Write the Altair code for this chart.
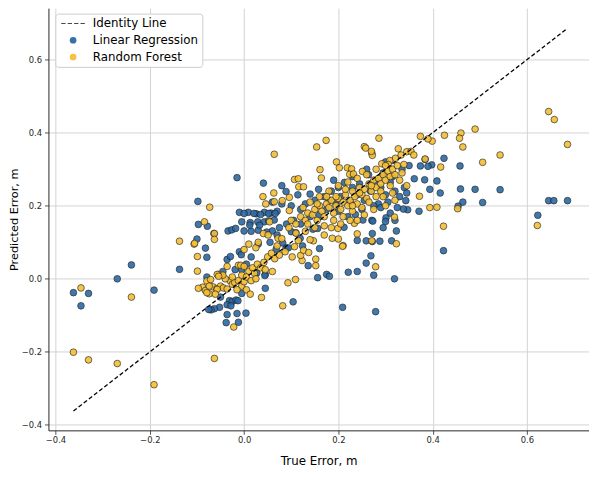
import altair as alt
import pandas as pd

# ---- Linear Regression (true error, predicted error) ----
lr_true = [
    -0.362, -0.330, -0.346, -0.269, -0.239, -0.191, -0.137, -0.098, -0.015, 0.041,
    -0.097, -0.078, -0.100, -0.082, -0.079, -0.036, -0.010, -0.006, 0.068, 0.045,
    0.045, -0.019, -0.005, -0.079, -0.031, -0.025, -0.017, -0.013, -0.036, -0.028,
    -0.052, -0.063, -0.070, -0.075, -0.036, -0.015, 0.004, -0.038, -0.012, -0.034,
    -0.026, -0.018, 0.013, 0.029, 0.043, 0.052, 0.064, -0.010, 0.009, 0.026,
    0.043, 0.057, 0.000, 0.015, 0.030, 0.048, 0.060, 0.075, 0.082, 0.089,
    0.100, 0.110, 0.124, 0.146, 0.156, 0.119, 0.094, 0.104, 0.209, 0.156,
    0.175, 0.181, 0.136, 0.160, 0.221, 0.240, 0.259, 0.269, 0.240, 0.259,
    0.272, 0.212, 0.252, 0.271, 0.423, 0.275, 0.319, 0.279, 0.288, 0.313,
    0.646, 0.657, 0.686, 0.623, 0.543, 0.490, 0.506, 0.464, 0.454, 0.459,
    0.458, 0.424, 0.398, 0.390, 0.374, 0.409, 0.416, 0.394, 0.383, 0.361,
    0.343, 0.371, 0.347, 0.338, 0.323, 0.301, 0.300, 0.273, 0.272, 0.236,
    0.384, 0.089, 0.114, 0.140, 0.158, 0.213, 0.264, 0.180, 0.195, 0.205,
    0.225, 0.240, 0.255, 0.268, 0.285, 0.290, 0.300, 0.310, 0.320, 0.330,
    0.315, 0.295, 0.280, 0.245, 0.230, 0.200, 0.185, 0.170, 0.150, 0.130,
    0.120, 0.100, 0.080, 0.070, 0.060, 0.175, 0.160, 0.140, 0.200, 0.220,
    0.250, 0.275, 0.305, 0.325, 0.340, 0.335, 0.350, 0.300, 0.260, 0.230,
    0.190, 0.000, 0.021, 0.035, 0.052, 0.066, -0.064, -0.005, 0.012, 0.033,
    0.080, 0.090, 0.105, 0.120, 0.070, 0.290, 0.310, 0.295, 0.320, 0.345,
    -0.029, 0.027, 0.044, 0.005, -0.045, 0.015, 0.030, 0.055, -0.050, -0.005,
]
lr_pred = [
    -0.038, -0.040, -0.074, 0.000, 0.038, -0.031, 0.026, 0.212, 0.277, 0.262,
    0.149, 0.144, 0.109, 0.084, 0.059, 0.053, 0.074, 0.066, 0.081, 0.012,
    -0.026, 0.025, 0.025, 0.005, -0.060, -0.062, -0.058, -0.060, -0.071, -0.074,
    -0.078, -0.082, -0.085, -0.084, -0.098, -0.095, -0.094, -0.120, -0.119, 0.131,
    0.134, 0.138, 0.154, 0.156, 0.156, 0.159, 0.161, 0.182, 0.182, 0.178,
    0.182, 0.180, 0.131, 0.130, 0.133, 0.128, 0.131, 0.140, 0.098, 0.084,
    0.129, 0.126, 0.090, 0.136, 0.138, 0.111, 0.085, -0.063, -0.078, 0.003,
    0.012, 0.007, 0.036, 0.083, 0.018, 0.020, 0.043, 0.063, 0.105, 0.104,
    0.102, 0.141, 0.161, 0.160, 0.077, 0.010, 0.000, -0.090, 0.103, 0.104,
    0.214, 0.214, 0.214, 0.174, 0.244, 0.245, 0.209, 0.210, 0.199, 0.246,
    0.309, 0.330, 0.312, 0.308, 0.309, 0.268, 0.235, 0.245, 0.271, 0.274,
    0.214, 0.185, 0.189, 0.191, 0.131, 0.167, 0.157, 0.158, 0.124, 0.176,
    0.327, 0.239, 0.230, 0.232, 0.245, 0.264, 0.285, 0.215, 0.205, 0.225,
    0.210, 0.230, 0.215, 0.240, 0.205, 0.250, 0.230, 0.265, 0.240, 0.225,
    0.280, 0.290, 0.270, 0.260, 0.250, 0.250, 0.240, 0.225, 0.215, 0.205,
    0.190, 0.200, 0.205, 0.185, 0.210, 0.190, 0.175, 0.170, 0.185, 0.170,
    0.190, 0.200, 0.210, 0.195, 0.250, 0.300, 0.310, 0.320, 0.300, 0.280,
    0.270, 0.179, 0.179, 0.176, 0.179, 0.179, 0.124, 0.156, 0.147, 0.147,
    0.255, 0.150, 0.160, 0.150, 0.120, 0.195, 0.180, 0.140, 0.160, 0.235,
    0.061, 0.016, 0.009, 0.040, 0.020, 0.060, 0.095, 0.100, -0.050, -0.040,
]

# ---- Random Forest (true error, predicted error) ----
rf_true = [
    -0.362, -0.346, -0.330, -0.269, -0.239, -0.191, -0.063, -0.022, -0.137, 0.646,
    0.658, 0.686, 0.622, 0.490, 0.460, 0.457, 0.464, 0.425, 0.399, 0.390,
    0.374, 0.543, 0.506, 0.417, 0.384, 0.453, 0.409, 0.394, 0.372, 0.423,
    0.319, 0.174, 0.154, 0.286, 0.255, 0.258, 0.271, 0.272, 0.279, 0.152,
    0.152, 0.123, 0.120, 0.126, 0.137, 0.210, 0.323, 0.271, 0.093, 0.109,
    0.082, 0.102, 0.087, 0.147, 0.140, 0.187, 0.200, 0.209, 0.199, 0.240,
    0.234, 0.107, 0.196, 0.202, 0.161, 0.164, 0.219, 0.228, 0.224, 0.232,
    0.251, 0.107, 0.115, 0.116, 0.126, 0.270, 0.327, 0.345, 0.354, 0.360,
    0.333, 0.321, 0.339, 0.309, 0.306, 0.292, 0.064, 0.063, 0.064, -0.073,
    0.081, 0.096, 0.041, 0.051, 0.072, 0.054, 0.096, 0.040, 0.046, 0.100,
    0.110, 0.120, 0.130, 0.135, 0.145, 0.150, 0.155, 0.160, 0.165, 0.170,
    0.175, 0.180, 0.185, 0.190, 0.195, 0.200, 0.205, 0.210, 0.215, 0.220,
    0.225, 0.230, 0.235, 0.240, 0.245, 0.250, 0.255, 0.260, 0.265, 0.270,
    0.275, 0.280, 0.285, 0.290, 0.295, 0.300, 0.305, 0.310, 0.315, 0.320,
    0.325, 0.330, 0.280, 0.265, 0.250, 0.230, 0.210, 0.190, 0.170, 0.150,
    0.130, 0.110, 0.095, 0.125, 0.140, 0.160, 0.180, 0.200, 0.220, 0.240,
    0.260, 0.280, 0.300, 0.230, 0.245, 0.270, 0.290, 0.310, 0.335, 0.295,
    0.315, 0.215, 0.195, 0.175, 0.155, 0.135, 0.115, 0.170, 0.185, 0.205,
    0.225, 0.255, 0.240, 0.275, 0.300, 0.320, 0.345, -0.084, -0.063, -0.063,
    -0.106, -0.099, -0.036, -0.012, -0.054, -0.088, -0.082, -0.074, -0.079, -0.071,
    -0.066, -0.058, -0.050, -0.044, -0.036, -0.030, -0.025, -0.020, -0.012, -0.005,
    0.000, 0.005, -0.015, 0.010, 0.018, 0.022, 0.028, 0.035, 0.042, 0.050,
    0.058, 0.065, 0.045, 0.000, 0.010, 0.025, 0.030, 0.037, 0.013, -0.040,
    -0.045, -0.005, 0.005, -0.025, 0.015, 0.025, 0.060, 0.070, 0.075, 0.080,
    -0.099, -0.097, -0.079, -0.007, 0.000, -0.057, -0.061, -0.074, -0.057, -0.054,
    -0.105,
]
rf_pred = [
    -0.201, -0.025, -0.222, -0.232, -0.050, -0.290, -0.218, -0.132, 0.103, 0.458,
    0.436, 0.368, 0.146, 0.410, 0.399, 0.385, 0.361, 0.393, 0.377, 0.383,
    0.390, 0.339, 0.319, 0.306, 0.328, 0.192, 0.196, 0.195, 0.226, 0.144,
    0.169, 0.379, 0.361, 0.385, 0.362, 0.358, 0.344, 0.338, 0.033, 0.054,
    0.036, 0.050, 0.064, 0.078, 0.072, 0.091, 0.096, 0.104, -0.011, -0.002,
    -0.074, 0.060, 0.074, 0.104, 0.107, 0.111, 0.109, 0.089, 0.138, 0.123,
    0.152, 0.088, 0.320, 0.304, 0.299, 0.276, 0.304, 0.301, 0.286, 0.287,
    0.294, 0.272, 0.274, 0.252, 0.252, 0.349, 0.356, 0.348, 0.349, 0.339,
    0.339, 0.330, 0.313, 0.324, 0.313, 0.315, 0.341, 0.235, 0.211, 0.196,
    0.214, 0.223, 0.124, 0.120, 0.111, 0.156, 0.187, 0.225, 0.205, 0.160,
    0.150, 0.170, 0.160, 0.180, 0.175, 0.190, 0.160, 0.200, 0.185, 0.170,
    0.205, 0.195, 0.215, 0.180, 0.200, 0.220, 0.190, 0.210, 0.230, 0.200,
    0.215, 0.240, 0.225, 0.205, 0.250, 0.230, 0.245, 0.220, 0.260, 0.240,
    0.270, 0.250, 0.275, 0.260, 0.285, 0.270, 0.295, 0.280, 0.300, 0.285,
    0.310, 0.270, 0.225, 0.210, 0.195, 0.185, 0.170, 0.160, 0.145, 0.140,
    0.130, 0.125, 0.140, 0.195, 0.210, 0.225, 0.240, 0.255, 0.265, 0.275,
    0.285, 0.300, 0.310, 0.200, 0.235, 0.255, 0.240, 0.255, 0.290, 0.225,
    0.235, 0.245, 0.225, 0.225, 0.205, 0.150, 0.105, 0.120, 0.140, 0.150,
    0.160, 0.175, 0.160, 0.190, 0.200, 0.215, 0.255, 0.156, 0.124, 0.108,
    0.095, 0.061, 0.034, 0.037, 0.012, -0.023, -0.032, -0.041, -0.006, -0.002,
    -0.022, -0.027, -0.020, -0.025, -0.028, -0.005, -0.015, -0.010, -0.005, -0.020,
    -0.008, -0.030, -0.030, 0.020, 0.030, 0.015, 0.040, 0.030, 0.045, 0.060,
    0.070, 0.055, 0.025, 0.080, 0.095, 0.085, 0.100, -0.051, -0.042, 0.000,
    0.010, 0.010, 0.005, 0.005, -0.005, 0.000, 0.020, 0.090, 0.065, 0.110,
    0.021, -0.026, -0.038, 0.037, 0.034, -0.029, -0.042, -0.020, 0.012, 0.007,
    0.097,
]

identity_x = [-0.362, 0.686]
series_names = ["Identity Line", "Linear Regression", "Random Forest"]
series_colors = ["#000000", "#2c6aa6", "#f5bf35"]
tick_values = [-0.4, -0.2, 0.0, 0.2, 0.4, 0.6]

pts = pd.DataFrame({
    "true": lr_true + rf_true,
    "pred": lr_pred + rf_pred,
    "series": [series_names[1]] * len(lr_true) + [series_names[2]] * len(rf_true),
})
line_df = pd.DataFrame({"true": identity_x, "pred": identity_x})

dash_path = ("M-3.55,-0.12H-2.25V0.12H-3.55Z M-1.63,-0.12H-0.33V0.12H-1.63Z "
             "M0.29,-0.12H1.59V0.12H0.29Z M2.21,-0.12H3.51V0.12H2.21Z")

label_expr = "replace(format(datum.value, '.1f'), '-', '\u2212')"
font = "DejaVu Sans"

xscale = alt.Scale(domain=[-0.415, 0.7316], nice=False, zero=False)
yscale = alt.Scale(domain=[-0.415, 0.741], nice=False, zero=False)

xaxis = alt.Axis(values=tick_values, labelExpr=label_expr, title="True Error, m",
                 titleY=35, titleBaseline="alphabetic", labelPadding=1.5)
yaxis = alt.Axis(values=tick_values, labelExpr=label_expr, title="Predicted Error, m",
                 titleX=-31.5, titleBaseline="alphabetic", titleFontSize=11.5,
                 labelPadding=3)

legend = alt.Legend(
    title=None, orient="none", legendX=7, legendY=5.5,
    fillColor="white", strokeColor="#cccccc", cornerRadius=3, padding=4,
    labelFont=font, labelFontSize=12, labelColor="#000000",
    symbolSize=46, symbolOffset=8, labelOffset=14, rowPadding=5,
    symbolStrokeColor="#1a1a1a", symbolStrokeWidth=0.7, symbolOpacity=0.95,
)

points = alt.Chart(pts).mark_point(
    filled=True, size=46, stroke="#1a1a1a", strokeWidth=0.7, opacity=0.9
).encode(
    x=alt.X("true:Q", scale=xscale, axis=xaxis),
    y=alt.Y("pred:Q", scale=yscale, axis=yaxis),
    color=alt.Color("series:N", scale=alt.Scale(domain=series_names, range=series_colors),
                    legend=legend),
    shape=alt.Shape("series:N", scale=alt.Scale(domain=series_names,
                                                 range=[dash_path, "circle", "circle"]),
                    legend=legend),
)

identity = alt.Chart(line_df).mark_line(
    color="black", strokeDash=[4.2, 2.4], strokeWidth=1.3
).encode(
    x=alt.X("true:Q", scale=xscale),
    y=alt.Y("pred:Q", scale=yscale),
)

chart = alt.layer(points, identity).properties(
    width=548, height=428,
    padding={"left": 41, "top": -3, "right": 0, "bottom": 37},
    autosize=alt.AutoSizeParams(type="none"),
    background="white",
).configure_view(
    strokeWidth=0
).configure_axis(
    grid=True, gridColor="#d2d2d2", gridWidth=1,
    domainColor="#262626", domainWidth=1,
    tickColor="#262626", tickSize=4, tickWidth=0.8,
    labelFont=font, labelFontSize=8.5, labelColor="#262626",
    titleFont=font, titleFontSize=12, titleFontWeight="normal", titleColor="#000000",
)

chart.save("out.html", embed_options={"renderer": "svg", "actions": False})
